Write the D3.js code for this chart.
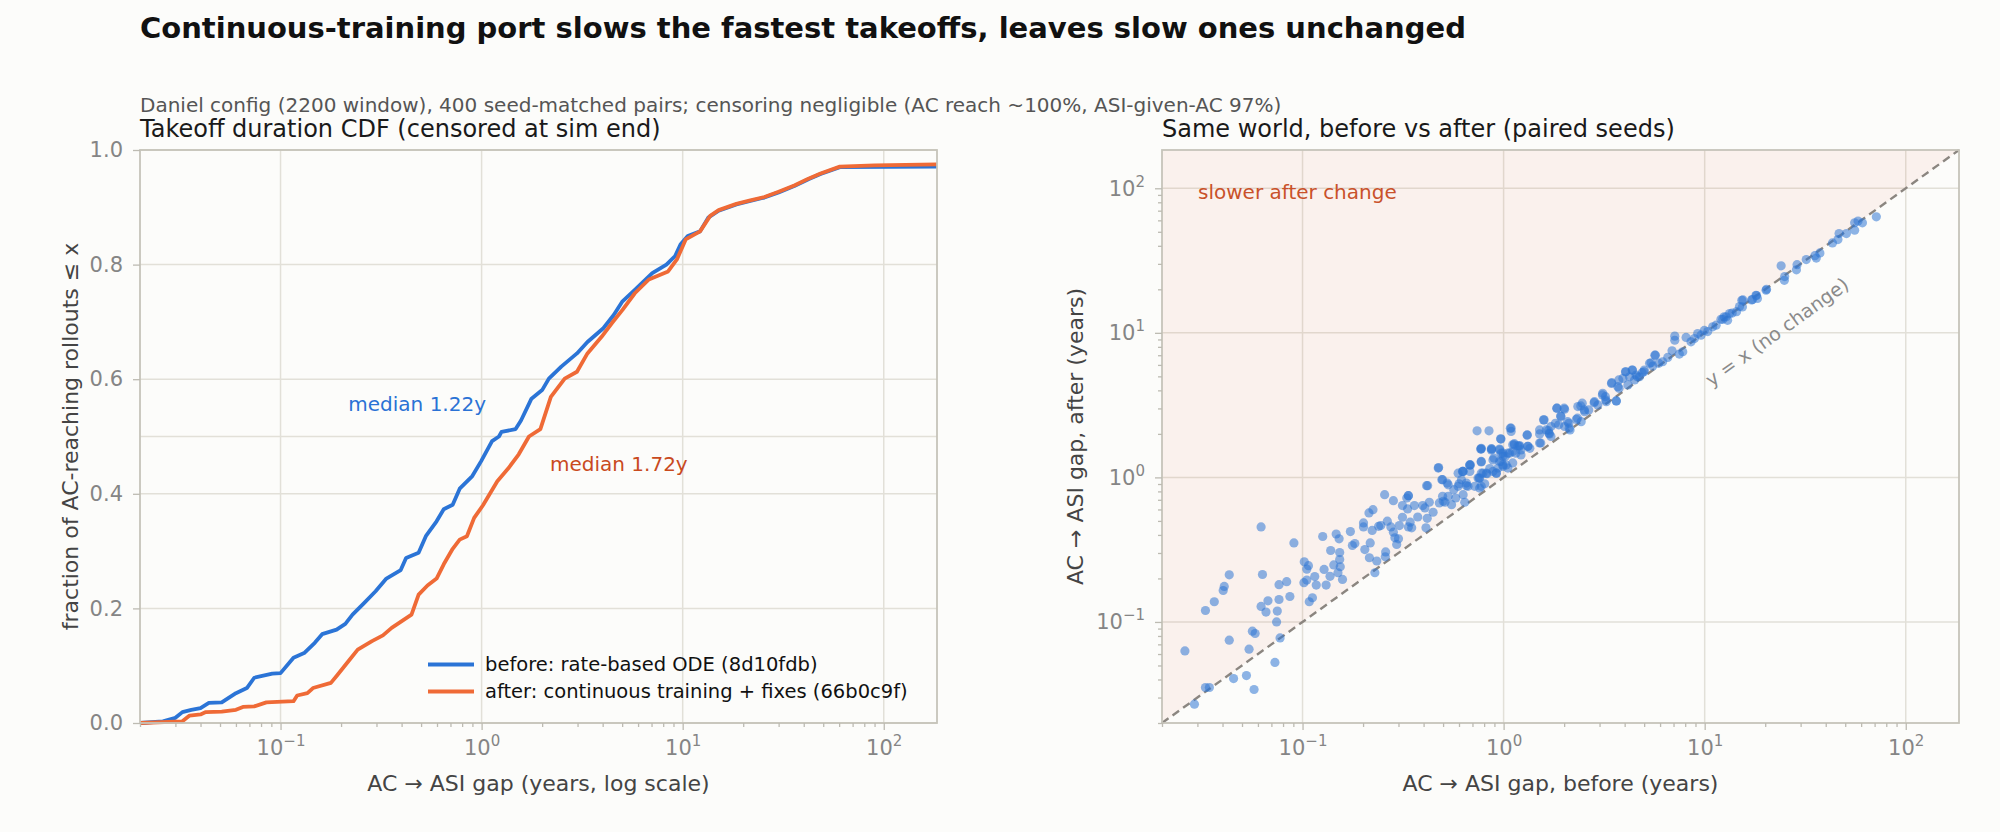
<!DOCTYPE html>
<html lang="en">
<head>
<meta charset="utf-8"/>
<title>Continuous-training port takeoff comparison</title>
<script src="https://d3js.org/d3.v7.min.js"></script>
<style>
body { margin: 0; background: #fcfcfa; }
svg text { font-family: "DejaVu Sans", sans-serif; }
.tick text { fill: #858585; font-size: 21px; }
.tick line { stroke: #bdbbb2; stroke-width: 1.3; }
.grid { stroke: #e2e0d8; stroke-width: 1.5; }
.frame { fill: none; stroke: #c6c4ba; stroke-width: 1.8; }
.axlabel { fill: #444; font-size: 22px; }
.ptitle { fill: #1a1a1a; font-size: 24px; }
</style>
</head>
<body>
<div id="chart"></div>
<script>
// ---- data ----
// CDF of AC -> ASI gap (years), before / after
var beforeGap = [0.02, 0.026, 0.030, 0.0325, 0.036, 0.040, 0.044, 0.051, 0.060, 0.068, 0.074, 0.091, 0.100,
  0.116, 0.131, 0.148, 0.161, 0.190, 0.210, 0.228, 0.258, 0.297, 0.336, 0.396, 0.421, 0.486, 0.528,
  0.597, 0.648, 0.718, 0.778, 0.899, 0.995, 1.127, 1.22, 1.256, 1.476, 1.57, 1.77, 2.0, 2.16, 2.49,
  2.98, 3.36, 4.03, 4.54, 5.02, 5.78, 7.06, 8.30, 9.17, 9.75, 10.6, 12.2, 13.4, 15.1, 18.5, 21.7,
  25.5, 30, 35.9, 42.2, 48.5, 60.5, 184];
var beforeFrac = [0, 0.003, 0.009, 0.019, 0.023, 0.026, 0.035, 0.036, 0.052, 0.061, 0.079, 0.086, 0.087,
  0.114, 0.122, 0.140, 0.155, 0.163, 0.173, 0.189, 0.208, 0.230, 0.252, 0.267, 0.288, 0.297, 0.326,
  0.352, 0.373, 0.381, 0.409, 0.431, 0.457, 0.492, 0.500, 0.508, 0.513, 0.528, 0.566, 0.581, 0.601, 0.622,
  0.645, 0.665, 0.689, 0.712, 0.736, 0.756, 0.785, 0.800, 0.815, 0.835, 0.850, 0.858, 0.882, 0.894, 0.905, 0.911,
  0.917, 0.926, 0.937, 0.949, 0.958, 0.970, 0.971];
var afterGap = [0.02, 0.0325, 0.0353, 0.040, 0.0425, 0.051, 0.060, 0.065, 0.074, 0.085, 0.116, 0.121, 0.136,
  0.145, 0.178, 0.190, 0.219, 0.242, 0.285, 0.323, 0.357, 0.448, 0.486, 0.538, 0.597, 0.648, 0.718,
  0.778, 0.845, 0.918, 1.016, 1.197, 1.355, 1.53, 1.72, 1.96, 2.21, 2.59, 2.98, 3.36, 3.95, 4.45,
  5.02, 5.78, 6.79, 8.46, 9.36, 10.35, 12.2, 13.7, 15.1, 18.5, 21.7, 25.5, 30, 35.9, 42.2, 48.5,
  60.5, 90, 184];
var afterFrac = [0, 0.003, 0.013, 0.015, 0.019, 0.020, 0.023, 0.028, 0.029, 0.036, 0.038, 0.048, 0.052,
  0.061, 0.070, 0.082, 0.109, 0.128, 0.143, 0.153, 0.166, 0.189, 0.224, 0.240, 0.252, 0.277, 0.304,
  0.320, 0.326, 0.358, 0.380, 0.422, 0.444, 0.469, 0.500, 0.513, 0.569, 0.601, 0.613, 0.645, 0.674, 0.698,
  0.721, 0.750, 0.774, 0.788, 0.809, 0.844, 0.858, 0.885, 0.895, 0.906, 0.912, 0.918, 0.927, 0.938, 0.950, 0.959,
  0.971, 0.973, 0.975];
var medianBefore = 1.22, medianAfter = 1.72;

// paired seeds: gap before / gap after (years)
var pairBefore = [0.026, 0.029, 0.0329, 0.0344, 0.0329, 0.0364, 0.0403, 0.0408, 0.0432, 0.0432, 0.0454, 0.0526,
  0.0574, 0.0542, 0.0563, 0.0581, 0.0622, 0.0632, 0.0622, 0.0658, 0.0673, 0.0729, 0.0743, 0.0749, 0.0764,
  0.0764, 0.0773, 0.0834, 0.0865, 0.0906, 0.1016, 0.102, 0.105, 0.107, 0.105, 0.108, 0.112, 0.115, 0.117,
  0.126, 0.128, 0.131, 0.137, 0.138, 0.143, 0.147, 0.152, 0.153, 0.153, 0.154, 0.158, 0.150, 0.173, 0.177,
  0.182, 0.201, 0.201, 0.204, 0.214, 0.224, 0.217, 0.215, 0.222, 0.229, 0.234, 0.239, 0.245, 0.256, 0.259,
  0.258, 0.264, 0.275, 0.283, 0.283, 0.288, 0.294, 0.300, 0.303, 0.314, 0.314, 0.330, 0.336, 0.336, 0.343,
  0.349, 0.333, 0.360, 0.374, 0.396, 0.406, 0.411, 0.414, 0.417, 0.427, 0.446, 0.475, 0.479, 0.493, 0.497,
  0.501, 0.511, 0.524, 0.530, 0.551, 0.565, 0.578, 0.594, 0.594, 0.617, 0.624, 0.629, 0.641, 0.653, 0.665,
  0.684, 0.679, 0.718, 0.746, 0.760, 0.774, 0.774, 0.805, 0.820, 0.853, 0.920, 0.938, 0.973, 0.993, 1.03,
  1.07, 0.774, 0.869, 0.955, 1.13, 1.20, 1.32, 1.51, 0.993, 1.11, 0.885,
  1.51, 1.59, 1.67, 1.69, 1.72, 1.81, 1.84, 1.92, 2.01, 2.01, 2.11, 2.14, 2.30, 2.34, 2.43, 2.46, 2.53, 2.65,
  2.83, 2.94, 3.11, 3.21, 3.24, 3.45, 3.63, 3.70, 3.74, 3.92, 4.04, 4.15, 4.23, 4.36, 4.48, 4.56, 4.74, 4.89,
  5.01, 5.41, 5.52, 5.69, 5.91, 6.18, 6.55, 6.88, 7.10, 7.10, 7.48, 7.78, 8.08, 8.55, 8.89, 9.23, 9.59, 9.96,
  10.35, 10.96, 11.4, 12.05, 12.5, 13.0, 13.7, 14.4, 15.3, 15.4, 17.3, 18.3, 18.0, 20.2, 24.9,
  0.738, 0.846, 0.966, 1.08, 1.09, 1.31, 1.13, 1.20, 0.628, 0.678, 0.760, 0.789, 0.885, 0.955, 0.993, 1.05,
  1.11, 1.22, 1.35, 0.869, 0.774, 0.973,
  24.0, 25.0, 28.6, 28.8, 32.0, 35.3, 35.9, 37.4, 43.2, 46.0, 46.6, 50.7, 55.7, 55.7, 57.9, 60.9, 71.4,
  15.5, 17.1, 18.1, 20.3, 12.8, 13.3, 12.3, 14.9,
  0.473, 0.419, 0.336, 0.497, 0.530, 0.601, 0.629, 0.679, 0.653, 0.769, 0.774, 0.755, 0.774, 0.827, 0.873,
  0.895, 0.920, 0.955, 0.970, 0.993, 1.02, 1.05, 1.09, 1.11, 1.15, 1.18, 1.22, 1.31, 1.32, 1.51, 1.53,
  1.58, 1.63, 1.68, 1.72, 1.84, 1.88, 1.93, 2.00, 2.08, 2.12, 2.33, 2.42, 2.52, 2.82, 3.10, 3.22, 3.44,
  3.64, 3.75, 4.05, 4.37, 4.62, 4.99, 5.32, 5.65];
var pairAfter = [0.063, 0.027, 0.0352, 0.0352, 0.120, 0.138, 0.165, 0.176, 0.212, 0.0748, 0.0406, 0.0426,
  0.0341, 0.0648, 0.0863, 0.0832, 0.454, 0.213, 0.128, 0.117, 0.140, 0.0525, 0.100, 0.119, 0.143,
  0.181, 0.0776, 0.190, 0.150, 0.352, 0.187, 0.261, 0.232, 0.245, 0.195, 0.138, 0.147, 0.206, 0.180,
  0.390, 0.231, 0.180, 0.207, 0.312, 0.248, 0.406, 0.376, 0.302, 0.270, 0.241, 0.197, 0.219, 0.422, 0.338,
  0.349, 0.484, 0.454, 0.317, 0.568, 0.598, 0.352, 0.278, 0.430, 0.219, 0.264, 0.459, 0.464, 0.759, 0.305,
  0.282, 0.498, 0.454, 0.690, 0.418, 0.382, 0.344, 0.376, 0.464, 0.638, 0.530, 0.720, 0.748, 0.454, 0.490,
  0.448, 0.605, 0.638, 0.532, 0.638, 0.615, 0.448, 0.877, 0.521, 0.673, 0.574, 1.17, 0.666, 0.964, 0.740,
  0.683, 0.673, 0.914, 0.740, 0.648, 0.822, 0.720, 0.867, 1.07, 0.964, 1.10, 0.759, 0.673, 0.914, 0.867,
  1.22, 1.10, 0.867, 0.989, 0.843, 1.29, 1.07, 0.904, 1.07, 1.15, 1.07, 1.16, 1.29, 1.40, 1.22,
  1.47, 1.57, 1.58, 1.57, 1.68, 1.64, 1.64, 1.73, 1.47, 1.51, 1.32,
  2.00, 2.50, 2.11, 2.00, 2.25, 2.37, 3.01, 2.66, 2.96, 2.25, 2.37, 2.13, 2.52, 3.09, 2.43, 3.26, 2.85, 2.93,
  3.34, 3.17, 3.82, 3.62, 3.34, 4.52, 3.38, 4.24, 4.72, 4.84, 5.38, 4.36, 4.97, 5.53, 4.72, 5.11, 4.97, 5.30,
  5.53, 6.21, 5.89, 7.01, 6.15, 6.31, 6.76, 7.52, 9.49, 8.89, 7.13, 7.40, 9.29, 8.67, 9.14, 9.89, 9.64, 10.4,
  10.2, 11.0, 11.3, 12.4, 12.9, 12.2, 13.7, 14.0, 16.8, 15.1, 17.0, 17.3, 18.2, 19.7, 23.1,
  2.10, 2.10, 1.85, 2.19, 2.08, 1.97, 1.71, 1.66, 1.10, 1.22, 0.989, 1.07, 1.10, 1.29, 1.19, 1.47,
  1.26, 1.43, 1.59, 1.55, 1.59, 1.47,
  29.1, 24.5, 27.3, 29.6, 32.1, 34.2, 32.9, 35.7, 41.9, 44.2, 48.6, 48.6, 51.3, 57.7, 59.3, 57.7, 63.5,
  16.9, 16.9, 18.1, 20.0, 12.9, 13.6, 12.4, 15.2,
  1.16, 0.877, 0.748, 0.964, 0.889, 0.904, 1.10, 1.22, 0.877, 1.57, 1.28, 0.989, 0.867, 1.06, 1.57,
  1.36, 1.07, 1.55, 1.84, 1.22, 1.40, 1.16, 2.19, 1.68, 1.47, 1.65, 1.55, 1.96, 1.64, 2.13, 1.73,
  2.50, 2.13, 2.02, 1.92, 3.01, 2.31, 2.64, 3.01, 2.43, 2.19, 2.57, 3.12, 2.93, 3.29, 3.72, 3.43, 4.47,
  3.38, 4.13, 5.38, 5.53, 4.97, 5.38, 6.15, 7.01];

var seriesNames = ["before: rate-based ODE (8d10fdb)", "after: continuous training + fixes (66b0c9f)"];
var seriesColors = ["#2b74d6", "#ef6a36"];
var fracTicks = [0, 0.2, 0.4, 0.6, 0.8, 1.0];
var decadeTicks = [0.1, 1, 10, 100];
var gapDomain = [0.02, 184];

// ---- layout ----
var w = 2000, h = 832;
var L = {x0: 140, x1: 937, y0: 150, y1: 723};
var R = {x0: 1162, x1: 1959, y0: 150, y1: 723};

var svg = d3.select("#chart").append("svg")
  .attr("width", w).attr("height", h);
svg.append("rect").attr("width", w).attr("height", h).attr("fill", "#fcfcfa");

svg.append("text")
  .attr("x", 140).attr("y", 38)
  .attr("font-size", "29px").attr("font-weight", "bold").attr("fill", "#111")
  .text("Continuous-training port slows the fastest takeoffs, leaves slow ones unchanged");
svg.append("text")
  .attr("x", 140).attr("y", 112)
  .attr("font-size", "20px").attr("fill", "#555")
  .text("Daniel config (2200 window), 400 seed-matched pairs; censoring negligible (AC reach ~100%, ASI-given-AC 97%)");

// minor ticks for log axes
function minorTicks(scale) {
  var out = [];
  for (var e = -2; e <= 2; e++) {
    for (var m = 2; m <= 9; m++) {
      var v = m * Math.pow(10, e);
      if (v >= scale.domain()[0] && v <= scale.domain()[1]) out.push(v);
    }
  }
  return out;
}

function supLabels(g) {
  g.selectAll(".tick text").each(function(d) {
    var e = Math.round(Math.log10(d));
    var t = d3.select(this);
    t.text(null);
    t.append("tspan").text("10");
    t.append("tspan").attr("dy", "-0.6em").attr("font-size", "15px")
      .text(e < 0 ? "\u2212" + (-e) : String(e));
  });
}

// ================= left: CDF =================
var xL = d3.scaleLog().domain(gapDomain).range([L.x0, L.x1]);
var yL = d3.scaleLinear().domain([0, 1]).range([L.y1, L.y0]);

var gl = svg.append("g");
gl.selectAll(".gx").data(decadeTicks).enter().append("line")
  .attr("class", "grid")
  .attr("x1", function(d) { return xL(d); }).attr("x2", function(d) { return xL(d); })
  .attr("y1", L.y0).attr("y2", L.y1);
gl.selectAll(".gy").data(fracTicks.concat([0.5])).enter().append("line")
  .attr("class", "grid")
  .attr("x1", L.x0).attr("x2", L.x1)
  .attr("y1", function(d) { return yL(d); }).attr("y2", function(d) { return yL(d); });

var cdfLine = d3.line()
  .x(function(d) { return xL(d[0]); })
  .y(function(d) { return yL(d[1]); });

var cdfs = [d3.zip(beforeGap, beforeFrac), d3.zip(afterGap, afterFrac)];
cdfs.forEach(function(pts, i) {
  gl.append("path")
    .datum(pts)
    .attr("fill", "none")
    .attr("stroke", seriesColors[i])
    .attr("stroke-width", 3.8)
    .attr("stroke-linejoin", "round")
    .attr("d", cdfLine);
});

gl.append("rect").attr("class", "frame")
  .attr("x", L.x0).attr("y", L.y0).attr("width", L.x1 - L.x0).attr("height", L.y1 - L.y0);

gl.append("g").attr("transform", "translate(0," + L.y1 + ")")
  .call(d3.axisBottom(xL).tickValues(decadeTicks).tickSize(7).tickPadding(10))
  .call(supLabels);
gl.append("g").attr("transform", "translate(0," + L.y1 + ")")
  .call(d3.axisBottom(xL).tickValues(minorTicks(xL)).tickSize(4).tickFormat(""));
gl.append("g").attr("transform", "translate(" + L.x0 + ",0)")
  .call(d3.axisLeft(yL).tickValues(fracTicks).tickSize(7).tickPadding(10).tickFormat(d3.format(".1f")));
gl.selectAll(".domain").remove();

gl.append("text").attr("class", "ptitle")
  .attr("x", L.x0).attr("y", 137)
  .text("Takeoff duration CDF (censored at sim end)");
gl.append("text").attr("class", "axlabel")
  .attr("x", (L.x0 + L.x1) / 2).attr("y", 791).attr("text-anchor", "middle")
  .text("AC \u2192 ASI gap (years, log scale)");
gl.append("text").attr("class", "axlabel")
  .attr("transform", "translate(78," + (L.y0 + L.y1) / 2 + ") rotate(-90)")
  .attr("text-anchor", "middle")
  .text("fraction of AC-reaching rollouts \u2264 x");

gl.append("text")
  .attr("x", 486).attr("y", 411).attr("text-anchor", "end")
  .attr("font-size", "20px").attr("fill", "#2a72d5")
  .text("median " + medianBefore.toFixed(2) + "y");
gl.append("text")
  .attr("x", 550).attr("y", 471)
  .attr("font-size", "20px").attr("fill", "#c94a1d")
  .text("median " + medianAfter.toFixed(2) + "y");

// legend
var leg = gl.append("g");
seriesNames.forEach(function(name, i) {
  var y = 664.5 + i * 27;
  leg.append("line")
    .attr("x1", 428).attr("x2", 474).attr("y1", y).attr("y2", y)
    .attr("stroke", seriesColors[i]).attr("stroke-width", 3.8);
  leg.append("text")
    .attr("x", 485).attr("y", y).attr("dy", "0.35em")
    .attr("font-size", "19.5px").attr("fill", "#111")
    .text(name);
});

// ================= right: paired scatter =================
var xR = d3.scaleLog().domain(gapDomain).range([R.x0, R.x1]);
var yR = d3.scaleLog().domain(gapDomain).range([R.y1, R.y0]);

var gr = svg.append("g");
gr.selectAll(".gx").data(decadeTicks).enter().append("line")
  .attr("class", "grid")
  .attr("x1", function(d) { return xR(d); }).attr("x2", function(d) { return xR(d); })
  .attr("y1", R.y0).attr("y2", R.y1);
gr.selectAll(".gy").data(decadeTicks).enter().append("line")
  .attr("class", "grid")
  .attr("x1", R.x0).attr("x2", R.x1)
  .attr("y1", function(d) { return yR(d); }).attr("y2", function(d) { return yR(d); });

// shaded "slower after" half
var lo = gapDomain[0], hi = gapDomain[1];
gr.append("path")
  .datum([[lo, lo], [hi, hi], [lo, hi]])
  .attr("fill", "#e8603c").attr("fill-opacity", 0.065)
  .attr("d", d3.line().x(function(d) { return xR(d[0]); }).y(function(d) { return yR(d[1]); }));

gr.append("line")
  .attr("x1", xR(lo)).attr("y1", yR(lo)).attr("x2", xR(hi)).attr("y2", yR(hi))
  .attr("stroke", "#8b8680").attr("stroke-width", 2.4).attr("stroke-dasharray", "8,5");

gr.selectAll("circle").data(d3.zip(pairBefore, pairAfter)).enter().append("circle")
  .attr("cx", function(d) { return xR(d[0]); })
  .attr("cy", function(d) { return yR(d[1]); })
  .attr("r", 4.6)
  .attr("fill", "#2f76d4").attr("fill-opacity", 0.55);

gr.append("rect").attr("class", "frame")
  .attr("x", R.x0).attr("y", R.y0).attr("width", R.x1 - R.x0).attr("height", R.y1 - R.y0);

gr.append("g").attr("transform", "translate(0," + R.y1 + ")")
  .call(d3.axisBottom(xR).tickValues(decadeTicks).tickSize(7).tickPadding(10))
  .call(supLabels);
gr.append("g").attr("transform", "translate(0," + R.y1 + ")")
  .call(d3.axisBottom(xR).tickValues(minorTicks(xR)).tickSize(4).tickFormat(""));
gr.append("g").attr("transform", "translate(" + R.x0 + ",0)")
  .call(d3.axisLeft(yR).tickValues(decadeTicks).tickSize(7).tickPadding(10))
  .call(supLabels);
gr.append("g").attr("transform", "translate(" + R.x0 + ",0)")
  .call(d3.axisLeft(yR).tickValues(minorTicks(yR)).tickSize(4).tickFormat(""));
gr.selectAll(".domain").remove();

var diagAngle = Math.atan2(yR(1) - yR(10), xR(10) - xR(1)) * 180 / Math.PI;
gr.append("text")
  .attr("transform", "translate(1777,332) rotate(" + (-diagAngle) + ")")
  .attr("text-anchor", "middle").attr("dy", "0.35em")
  .attr("font-size", "19px").attr("fill", "#8a8a8a")
  .text("y = x (no change)");
gr.append("text")
  .attr("x", 1198).attr("y", 199)
  .attr("font-size", "20px").attr("fill", "#c9512a")
  .text("slower after change");

gr.append("text").attr("class", "ptitle")
  .attr("x", R.x0).attr("y", 137)
  .text("Same world, before vs after (paired seeds)");
gr.append("text").attr("class", "axlabel")
  .attr("x", (R.x0 + R.x1) / 2).attr("y", 791).attr("text-anchor", "middle")
  .text("AC \u2192 ASI gap, before (years)");
gr.append("text").attr("class", "axlabel")
  .attr("transform", "translate(1083," + (R.y0 + R.y1) / 2 + ") rotate(-90)")
  .attr("text-anchor", "middle")
  .text("AC \u2192 ASI gap, after (years)");
</script>
</body>
</html>
